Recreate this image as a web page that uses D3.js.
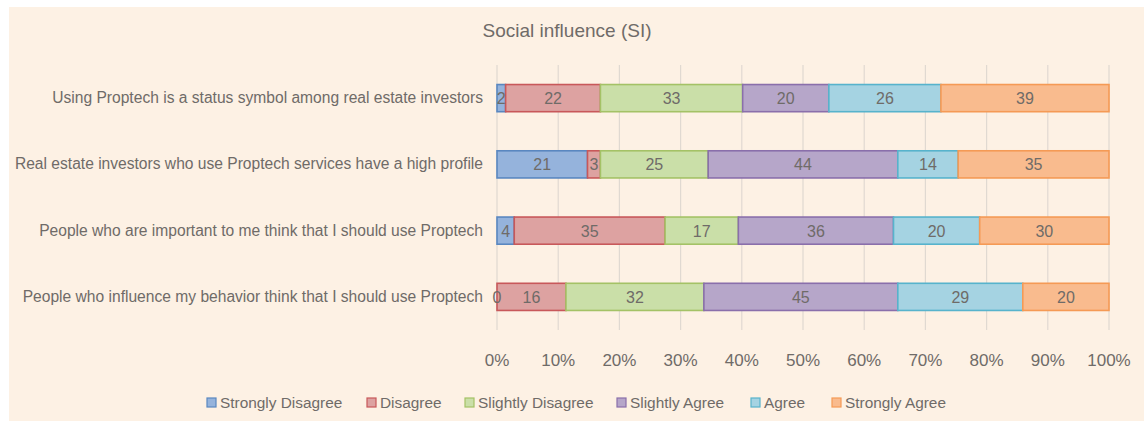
<!DOCTYPE html>
<html>
<head>
<meta charset="utf-8">
<title>Social influence (SI)</title>
<script src="https://cdn.jsdelivr.net/npm/d3@7"></script>
<style>
  body { margin: 0; background: #fff; }
  text { font-family: "Liberation Sans", Arial, sans-serif; fill: #6f6b68; }
</style>
</head>
<body>
<script>

// Chart data
var statements = [
    "Using Proptech is a status symbol among real estate investors",
    "Real estate investors who use Proptech services have a high profile",
    "People who are important to me think that I should use Proptech",
    "People who influence my behavior think that I should use Proptech"
];
var levels = ["Strongly Disagree", "Disagree", "Slightly Disagree", "Slightly Agree", "Agree", "Strongly Agree"];
var stronglyDisagree = [2, 21, 4, 0];
var disagree         = [22, 3, 35, 16];
var slightlyDisagree = [33, 25, 17, 32];
var slightlyAgree    = [20, 44, 36, 45];
var agree            = [26, 14, 20, 29];
var stronglyAgree    = [39, 35, 30, 20];
var ticks = [0, 0.1, 0.2, 0.3, 0.4, 0.5, 0.6, 0.7, 0.8, 0.9, 1];

var fills   = ["#95b3dc", "#dda2a1", "#cadfa8", "#b6a6c9", "#a5d3e2", "#f9bb8e"];
var strokes = ["#5a87c0", "#c8585a", "#a4c266", "#8a6fab", "#57b3cc", "#f59a55"];

var width = 1144, height = 421;

var svg = d3.select("body").append("svg")
    .attr("width", width)
    .attr("height", height);

// peach chart area
svg.append("rect")
    .attr("x", 9).attr("y", 7)
    .attr("width", width - 9).attr("height", height - 7)
    .attr("fill", "#fdf1e4");

svg.append("text")
    .attr("x", 567).attr("y", 37)
    .attr("text-anchor", "middle")
    .attr("font-size", "19px")
    .text("Social influence (SI)");

var x = d3.scaleLinear().domain([0, 1]).range([497, 1109]);
var y = d3.scaleBand().domain(statements).range([65, 330]).paddingInner(0.59).paddingOuter(0.295);

// gridlines
svg.append("g").selectAll("line")
    .data(ticks).enter().append("line")
    .attr("x1", function(d) { return x(d); })
    .attr("x2", function(d) { return x(d); })
    .attr("y1", 65).attr("y2", 330)
    .attr("stroke", "#e0d9d1")
    .attr("stroke-width", 1.2);

// tick labels
svg.append("g").selectAll("text")
    .data(ticks).enter().append("text")
    .attr("x", function(d) { return x(d); })
    .attr("y", 366)
    .attr("text-anchor", "middle")
    .attr("font-size", "17px")
    .text(d3.format(".0%"));

// category labels
svg.append("g").selectAll("text")
    .data(statements).enter().append("text")
    .attr("x", 483)
    .attr("y", function(d) { return y(d) + y.bandwidth() / 2 + 5; })
    .attr("text-anchor", "end")
    .attr("font-size", "15.6px")
    .text(function(d) { return d; });

// stack the series
var rows = statements.map(function(s, i) {
    var r = { name: s };
    var vals = [stronglyDisagree[i], disagree[i], slightlyDisagree[i], slightlyAgree[i], agree[i], stronglyAgree[i]];
    var total = d3.sum(vals);
    levels.forEach(function(l, j) { r[l] = vals[j] / total; r[l + "_n"] = vals[j]; });
    return r;
});
var series = d3.stack().keys(levels)(rows);

svg.append("g").selectAll("g")
    .data(series).enter().append("g")
    .attr("fill", function(s, i) { return fills[i]; })
    .attr("stroke", function(s, i) { return strokes[i]; })
    .attr("stroke-width", 1.6)
  .selectAll("rect")
    .data(function(s) { return s; })
    .enter().append("rect")
    .attr("x", function(d) { return x(d[0]); })
    .attr("y", function(d) { return y(d.data.name); })
    .attr("width", function(d) { return x(d[1]) - x(d[0]); })
    .attr("height", y.bandwidth());

// value labels go on top of every bar
svg.append("g").selectAll("g")
    .data(series).enter().append("g")
    .each(function(s) {
        d3.select(this).selectAll("text")
            .data(s).enter().append("text")
            .attr("x", function(d) { return (x(d[0]) + x(d[1])) / 2; })
            .attr("y", function(d) { return y(d.data.name) + y.bandwidth() / 2 + 6; })
            .attr("text-anchor", "middle")
            .attr("font-size", "16px")
            .text(function(d) { return d.data[s.key + "_n"]; });
    });

// legend
var legendX = [207, 367, 465, 617, 751, 832];
var legend = svg.append("g").selectAll("g")
    .data(levels).enter().append("g")
    .attr("transform", function(d, i) { return "translate(" + legendX[i] + ",403)"; });

legend.append("rect")
    .attr("x", 0).attr("y", -5)
    .attr("width", 9).attr("height", 9)
    .attr("fill", function(d, i) { return fills[i]; })
    .attr("stroke", function(d, i) { return strokes[i]; })
    .attr("stroke-width", 1.2);

legend.append("text")
    .attr("x", 13).attr("y", 5)
    .attr("font-size", "15.4px")
    .text(function(d) { return d; });

</script>
</body>
</html>
